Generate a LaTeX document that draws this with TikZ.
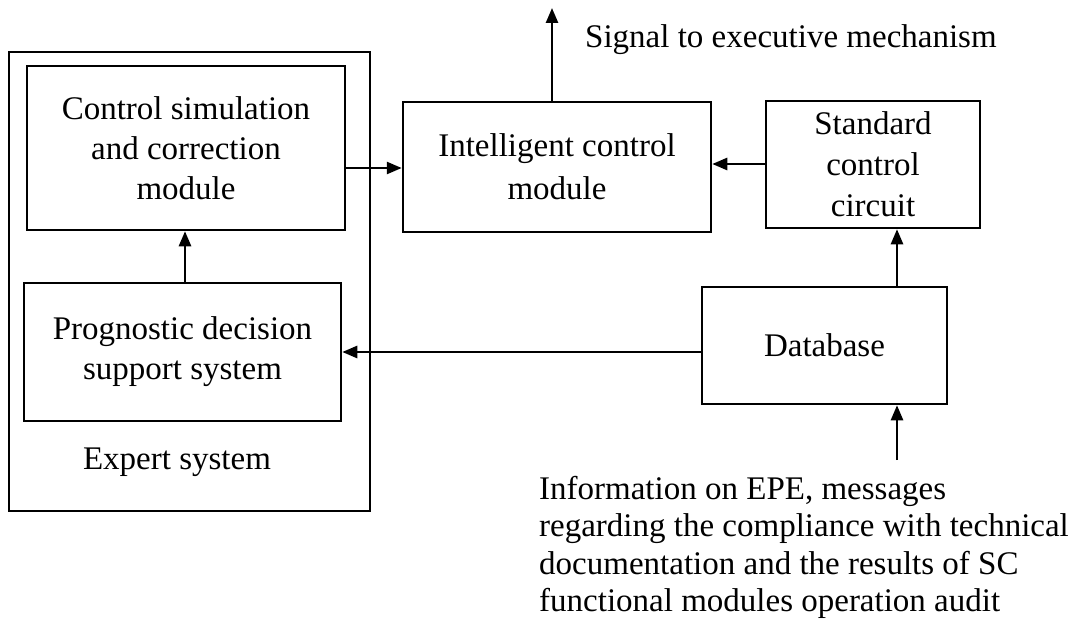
\documentclass[tikz,border=0pt]{standalone}
\usepackage{fontspec}
\setmainfont{Liberation Serif}
\usetikzlibrary{arrows.meta}
\begin{document}
\begin{tikzpicture}[x=1pt,y=-1pt,
  box/.style={draw,line width=2.5pt,align=center,inner sep=0pt,
    font=\fontsize{33}{40}\selectfont},
  arr/.style={line width=2.5pt,-{Triangle[length=15pt,width=12pt]}},
  lbl/.style={inner sep=0pt,font=\fontsize{33}{38}\selectfont}]
\useasboundingbox (0,0) rectangle (1071,626);
\node[box,minimum width=361pt,minimum height=459pt] (es) at (189.5,281.5) {};
\node[box,minimum width=318pt,minimum height=164pt] (cs) at (186,148)
  {Control simulation\\and correction\\module};
\node[box,minimum width=317pt,minimum height=138pt] (pd) at (182.5,352)
  {Prognostic decision\\support system};
\node[lbl] (est) at (177,462) {Expert system};
\node[box,minimum width=308pt,minimum height=130pt,
  font=\fontsize{33}{43}\selectfont] (ic) at (557,167)
  {Intelligent control\\module};
\node[box,minimum width=214pt,minimum height=127pt,
  font=\fontsize{33}{41}\selectfont] (sc) at (873,164.5)
  {Standard\\control\\circuit};
\node[box,minimum width=245pt,minimum height=117pt] (db) at (824.5,345.5)
  {Database};
\node[lbl,anchor=west] (sig) at (585,40) {Signal to executive mechanism};
\node[lbl,anchor=north west,align=left,font=\fontsize{33}{37.5}\selectfont] (info) at (539,476)
  {Information on EPE, messages\\regarding the compliance with technical\\documentation and the results of SC\\functional modules operation audit};
\coordinate (sigend) at (552,8);
\coordinate (infostart) at (897,460);
% connectors
\draw[arr] (ic.north -| sigend) -- (sigend);
\draw[arr] (cs.east |- 0,168) -- (ic.west |- 0,168);
\draw[arr] (sc.west |- 0,164) -- (ic.east |- 0,164);
\draw[arr] (pd.north -| 185,0) -- (cs.south -| 185,0);
\draw[arr] (db.north -| 897,0) -- (sc.south -| 897,0);
\draw[arr] (db.west |- 0,352) -- (pd.east |- 0,352);
\draw[arr] (infostart) -- (db.south -| infostart);
\end{tikzpicture}
\end{document}
